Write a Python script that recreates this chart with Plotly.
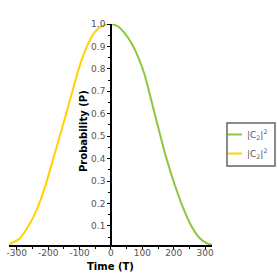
import plotly.graph_objects as go

# ---- data ----
t_green = [0, 22, 43, 65, 86, 107, 123, 134, 156, 177, 204, 230, 257, 283, 305, 321]
p_green = [1.0, 0.99, 0.96, 0.915, 0.855, 0.775, 0.69, 0.63, 0.51, 0.40, 0.28, 0.18, 0.097, 0.045, 0.023, 0.016]
t_yellow = [-324, -317, -290, -264, -237, -210, -184, -157, -131, -120, -104, -88, -72, -51, -30, -9, 0]
p_yellow = [0.016, 0.023, 0.045, 0.097, 0.17, 0.275, 0.40, 0.53, 0.66, 0.715, 0.795, 0.86, 0.915, 0.965, 0.99, 1.0, 1.0]
x_ticks = [-300, -200, -100, 0, 100, 200, 300]
y_ticks = [0.1, 0.2, 0.3, 0.4, 0.5, 0.6, 0.7, 0.8, 0.9, 1.0]
legend_labels = ["|C<sub>2</sub>|<sup>2</sup>", "|C<sub>2</sub>|<sup>2</sup>"]
x_range = [-325, 322]
y_range = [0.015, 1.0]

GREEN = "#8DC63F"
YELLOW = "#FFD200"
W, H = 277, 277
ML, MR, MT, MB = 9, 65, 24, 32
PW, PH = W - ML - MR, H - MT - MB


def px(xp):
    return (xp - ML) / PW


def py(yp):
    return (H - MB - yp) / PH


fig = go.Figure()
fig.add_trace(go.Scatter(x=t_yellow, y=p_yellow, mode="lines", line=dict(color=YELLOW, width=2, shape="spline", smoothing=0.8),
                         cliponaxis=False, showlegend=False, hoverinfo="skip"))
fig.add_trace(go.Scatter(x=t_green, y=p_green, mode="lines", line=dict(color=GREEN, width=2, shape="spline", smoothing=0.8),
                         cliponaxis=False, showlegend=False, hoverinfo="skip"))

ypos = (0 - x_range[0]) / (x_range[1] - x_range[0])

fig.update_layout(
    width=W, height=H,
    margin=dict(l=ML, r=MR, t=MT, b=MB, pad=0),
    paper_bgcolor="white", plot_bgcolor="white",
    showlegend=False,
    font=dict(family="DejaVu Sans", size=9, color="#555555"),
    xaxis=dict(range=x_range, showgrid=False, zeroline=False, showline=True, linecolor="black", linewidth=1.5,
               automargin=False, ticklabelstandoff=-5,
               tickvals=x_ticks, ticktext=[str(v) for v in x_ticks], ticks="outside", ticklen=3,
               tickcolor="black", tickfont=dict(size=9, color="#555555"),
               minor=dict(dtick=50, tick0=0, ticks="outside", ticklen=2, tickcolor="black")),
    yaxis=dict(range=y_range, showgrid=False, zeroline=False, showline=True, linecolor="black", linewidth=1.5,
               automargin=False, anchor="free", position=ypos,
               tickvals=y_ticks, ticktext=["%.1f" % v for v in y_ticks], ticks="outside", ticklen=3,
               tickcolor="black", tickfont=dict(size=9, color="#555555"),
               minor=dict(dtick=0.05, tick0=0, ticks="outside", ticklen=2, tickcolor="black")),
)

# axis titles
fig.add_annotation(text="<b>Probability (P)</b>", xref="paper", yref="paper", x=px(83), y=py(131),
                   xanchor="center", yanchor="middle",
                   textangle=-90, showarrow=False, font=dict(family="DejaVu Sans", size=10, color="black"))
fig.add_annotation(text="<b>Time (T)</b>", xref="paper", yref="paper", x=px(110), y=py(266.5),
                   xanchor="center", yanchor="middle",
                   showarrow=False, font=dict(family="DejaVu Sans", size=10, color="black"))

# legend box drawn manually
fig.add_shape(type="rect", xref="paper", yref="paper", x0=px(227), x1=px(275), y0=py(166), y1=py(123),
              line=dict(color="#666666", width=1.5), fillcolor="white")
for i, (col, lab) in enumerate(zip([GREEN, YELLOW], legend_labels)):
    yy = 134.5 + i * 19
    fig.add_shape(type="line", xref="paper", yref="paper", x0=px(228), x1=px(242), y0=py(yy), y1=py(yy),
                  line=dict(color=col, width=2))
    fig.add_annotation(text=lab, xref="paper", yref="paper", x=px(245), y=py(yy), xanchor="left",
                       yanchor="middle",
                       showarrow=False, font=dict(family="DejaVu Sans", size=9, color="#555566"))

fig.write_html("out.html", config={"displayModeBar": False},
               post_script="document.body.style.margin='0';document.body.style.overflow='hidden';")
